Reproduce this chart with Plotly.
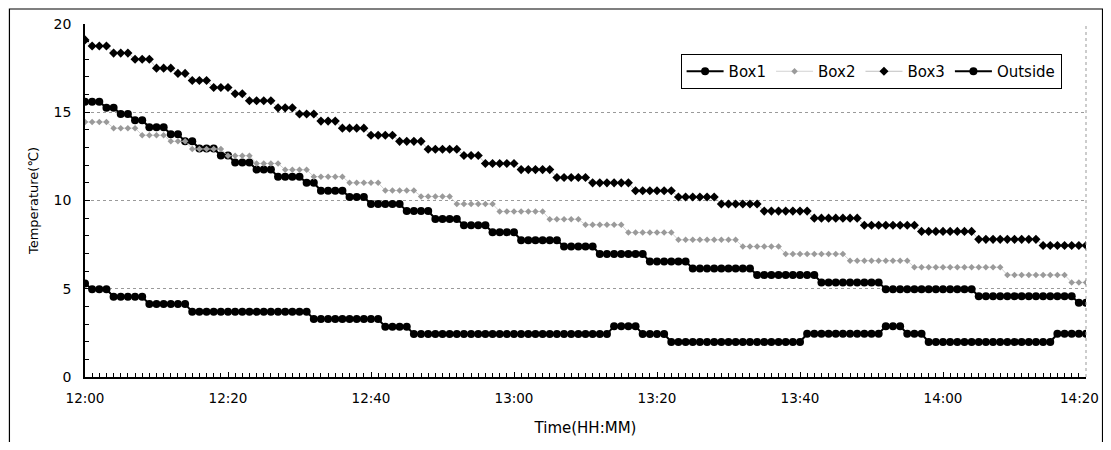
import pandas as pd
import plotly.graph_objects as go

# Time stamps: one reading per minute, 12:00 .. 14:20
times = pd.date_range("2000-01-01 12:00", "2000-01-01 14:20", freq="1min")

box1 = [
    15.6, 15.6, 15.6, 15.25, 15.25, 14.9, 14.9, 14.55, 14.55, 14.15,
    14.15, 14.15, 13.75, 13.75, 13.35, 13.35, 12.95, 12.95, 12.95, 12.55,
    12.55, 12.15, 12.15, 12.15, 11.75, 11.75, 11.75, 11.35, 11.35, 11.35,
    11.35, 11.0, 11.0, 10.55, 10.55, 10.55, 10.55, 10.2, 10.2, 10.2,
    9.8, 9.8, 9.8, 9.8, 9.8, 9.4, 9.4, 9.4, 9.4, 8.95,
    8.95, 8.95, 8.95, 8.6, 8.6, 8.6, 8.6, 8.2, 8.2, 8.2,
    8.2, 7.75, 7.75, 7.75, 7.75, 7.75, 7.75, 7.4, 7.4, 7.4,
    7.4, 7.4, 6.97, 6.97, 6.97, 6.97, 6.97, 6.97, 6.97, 6.55,
    6.55, 6.55, 6.55, 6.55, 6.55, 6.15, 6.15, 6.15, 6.15, 6.15,
    6.15, 6.15, 6.15, 6.15, 5.78, 5.78, 5.78, 5.78, 5.78, 5.78,
    5.78, 5.78, 5.78, 5.36, 5.36, 5.36, 5.36, 5.36, 5.36, 5.36,
    5.36, 5.36, 4.97, 4.97, 4.97, 4.97, 4.97, 4.97, 4.97, 4.97,
    4.97, 4.97, 4.97, 4.97, 4.97, 4.58, 4.58, 4.58, 4.58, 4.58,
    4.58, 4.58, 4.58, 4.58, 4.58, 4.58, 4.58, 4.58, 4.58, 4.2,
    4.2,
]

box2 = [
    14.45, 14.45, 14.45, 14.45, 14.1, 14.1, 14.1, 14.1, 13.7, 13.7,
    13.7, 13.7, 13.35, 13.35, 13.35, 12.92, 12.92, 12.92, 12.92, 12.92,
    12.54, 12.54, 12.54, 12.54, 12.1, 12.1, 12.1, 12.1, 11.74, 11.74,
    11.74, 11.74, 11.35, 11.35, 11.35, 11.35, 11.35, 11.0, 11.0, 11.0,
    11.0, 11.0, 10.57, 10.57, 10.57, 10.57, 10.57, 10.23, 10.23, 10.23,
    10.23, 10.23, 9.8, 9.8, 9.8, 9.8, 9.8, 9.8, 9.38, 9.38,
    9.38, 9.38, 9.38, 9.38, 9.38, 8.94, 8.94, 8.94, 8.94, 8.94,
    8.62, 8.62, 8.62, 8.62, 8.62, 8.62, 8.18, 8.18, 8.18, 8.18,
    8.18, 8.18, 8.18, 7.77, 7.77, 7.77, 7.77, 7.77, 7.77, 7.77,
    7.77, 7.77, 7.39, 7.39, 7.39, 7.39, 7.39, 7.39, 6.97, 6.97,
    6.97, 6.97, 6.97, 6.97, 6.97, 6.97, 6.97, 6.59, 6.59, 6.59,
    6.59, 6.59, 6.59, 6.59, 6.59, 6.59, 6.22, 6.22, 6.22, 6.22,
    6.22, 6.22, 6.22, 6.22, 6.22, 6.22, 6.22, 6.22, 6.22, 5.78,
    5.78, 5.78, 5.78, 5.78, 5.78, 5.78, 5.78, 5.78, 5.36, 5.36,
    5.36,
]

box3 = [
    19.1, 18.75, 18.75, 18.75, 18.35, 18.35, 18.35, 18.0, 18.0, 18.0,
    17.5, 17.5, 17.5, 17.2, 17.2, 16.8, 16.8, 16.8, 16.4, 16.4,
    16.4, 16.05, 16.05, 15.65, 15.65, 15.65, 15.65, 15.25, 15.25, 15.25,
    14.9, 14.9, 14.9, 14.5, 14.5, 14.5, 14.1, 14.1, 14.1, 14.1,
    13.7, 13.7, 13.7, 13.7, 13.35, 13.35, 13.35, 13.35, 12.9, 12.9,
    12.9, 12.9, 12.9, 12.55, 12.55, 12.55, 12.1, 12.1, 12.1, 12.1,
    12.1, 11.75, 11.75, 11.75, 11.75, 11.75, 11.3, 11.3, 11.3, 11.3,
    11.3, 11.0, 11.0, 11.0, 11.0, 11.0, 11.0, 10.55, 10.55, 10.55,
    10.55, 10.55, 10.55, 10.2, 10.2, 10.2, 10.2, 10.2, 10.2, 9.8,
    9.8, 9.8, 9.8, 9.8, 9.8, 9.4, 9.4, 9.4, 9.4, 9.4,
    9.4, 9.4, 9.0, 9.0, 9.0, 9.0, 9.0, 9.0, 9.0, 8.6,
    8.6, 8.6, 8.6, 8.6, 8.6, 8.6, 8.6, 8.25, 8.25, 8.25,
    8.25, 8.25, 8.25, 8.25, 8.25, 7.8, 7.8, 7.8, 7.8, 7.8,
    7.8, 7.8, 7.8, 7.8, 7.45, 7.45, 7.45, 7.45, 7.45, 7.45,
    7.45,
]

outside = [
    5.3, 4.97, 4.97, 4.97, 4.55, 4.55, 4.55, 4.55, 4.55, 4.13,
    4.13, 4.13, 4.13, 4.13, 4.13, 3.69, 3.69, 3.69, 3.69, 3.69,
    3.69, 3.69, 3.69, 3.69, 3.69, 3.69, 3.69, 3.69, 3.69, 3.69,
    3.69, 3.69, 3.28, 3.28, 3.28, 3.28, 3.28, 3.28, 3.28, 3.28,
    3.28, 3.28, 2.84, 2.84, 2.84, 2.84, 2.43, 2.43, 2.43, 2.43,
    2.43, 2.43, 2.43, 2.43, 2.43, 2.43, 2.43, 2.43, 2.43, 2.43,
    2.43, 2.43, 2.43, 2.43, 2.43, 2.43, 2.43, 2.43, 2.43, 2.43,
    2.43, 2.43, 2.43, 2.43, 2.88, 2.88, 2.88, 2.88, 2.43, 2.43,
    2.43, 2.43, 1.99, 1.99, 1.99, 1.99, 1.99, 1.99, 1.99, 1.99,
    1.99, 1.99, 1.99, 1.99, 1.99, 1.99, 1.99, 1.99, 1.99, 1.99,
    1.99, 2.45, 2.45, 2.45, 2.45, 2.45, 2.45, 2.45, 2.45, 2.45,
    2.45, 2.45, 2.88, 2.88, 2.88, 2.45, 2.45, 2.45, 1.99, 1.99,
    1.99, 1.99, 1.99, 1.99, 1.99, 1.99, 1.99, 1.99, 1.99, 1.99,
    1.99, 1.99, 1.99, 1.99, 1.99, 1.99, 2.45, 2.45, 2.45, 2.45,
    2.45,
]

x_ticks = ["12:00", "12:20", "12:40", "13:00", "13:20", "13:40", "14:00", "14:20"]
y_ticks = [0, 5, 10, 15, 20]

FONT = "'DejaVu Sans', Verdana, sans-serif"

fig = go.Figure()
fig.add_trace(go.Scatter(
    x=times, y=box1, name="Box1", mode="lines+markers",
    line=dict(color="black", width=2),
    marker=dict(symbol="circle", size=8, color="black"),
))
fig.add_trace(go.Scatter(
    x=times, y=box2, name="Box2", mode="lines+markers",
    line=dict(color="#c8c8c8", width=0.8),
    marker=dict(symbol="diamond", size=5, color="#9a9a9a"),
))
fig.add_trace(go.Scatter(
    x=times, y=box3, name="Box3", mode="lines+markers",
    line=dict(color="#b0b0b0", width=0.8),
    marker=dict(symbol="diamond", size=7, color="black"),
))
fig.add_trace(go.Scatter(
    x=times, y=outside, name="Outside", mode="lines+markers",
    line=dict(color="black", width=2),
    marker=dict(symbol="circle", size=8, color="black"),
))

tickvals = [pd.Timestamp("2000-01-01 " + t) for t in x_ticks]
# last label is drawn as a right-aligned annotation so it stays inside the page
ticktext = x_ticks[:-1] + [""]

# The page has an 8px body margin, so the figure is sized to fit inside it.
fig.update_layout(
    width=1095, height=434,
    margin=dict(l=77, r=17, t=16, b=65),
    paper_bgcolor="white", plot_bgcolor="white",
    font=dict(family=FONT, size=14, color="black"),
    showlegend=True,
    legend=dict(
        orientation="h", x=0.595, y=0.915, xanchor="left", yanchor="top",
        bordercolor="black", borderwidth=1, bgcolor="white",
        font=dict(family=FONT, size=15, color="black"),
        itemwidth=37, tracegroupgap=0,
    ),
    shapes=[
        # outer frame of the chart
        dict(type="rect", xref="paper", yref="paper",
             x0=-0.0755, x1=1.0165, y0=-0.25, y1=1.0425,
             line=dict(color="black", width=1.2), layer="below"),
        # dotted right border of plot area
        dict(type="line", xref="paper", yref="paper", x0=1, x1=1, y0=0, y1=1,
             line=dict(color="#999999", width=1, dash="dot")),
    ],
    annotations=[
        dict(x=tickvals[-1], y=0, xref="x", yref="paper",
             text=x_ticks[-1], showarrow=False,
             xanchor="right", yanchor="top", xshift=15, yshift=-11,
             font=dict(family=FONT, size=13.5, color="black")),
    ],
)

fig.update_xaxes(
    type="date", automargin=False,
    range=[pd.Timestamp("2000-01-01 12:00"), pd.Timestamp("2000-01-01 14:20")],
    tickvals=tickvals, ticktext=ticktext,
    showline=True, linecolor="black", linewidth=1.5,
    ticks="inside", ticklen=5, tickcolor="black",
    minor=dict(dtick=60000, ticks="inside", ticklen=4, tickcolor="black", showgrid=False),
    showgrid=False, zeroline=False,
    tickfont=dict(size=13.5), ticklabelstandoff=8,
    title=dict(text="Time(HH:MM)", font=dict(size=15), standoff=18),
)
fig.update_yaxes(
    automargin=False,
    range=[0, 20], tickvals=y_ticks,
    showline=True, linecolor="black", linewidth=1.5,
    ticks="inside", ticklen=5, tickcolor="black",
    minor=dict(dtick=1, ticks="inside", ticklen=4, tickcolor="black", showgrid=False),
    showgrid=True, gridcolor="#9a9a9a", gridwidth=1, griddash="dot",
    zeroline=False,
    tickfont=dict(size=14), ticklabelstandoff=9, ticklabeloverflow="allow",
    title=dict(text="Temperature(℃)", font=dict(size=13), standoff=12),
)

fig.write_html("out.html")
